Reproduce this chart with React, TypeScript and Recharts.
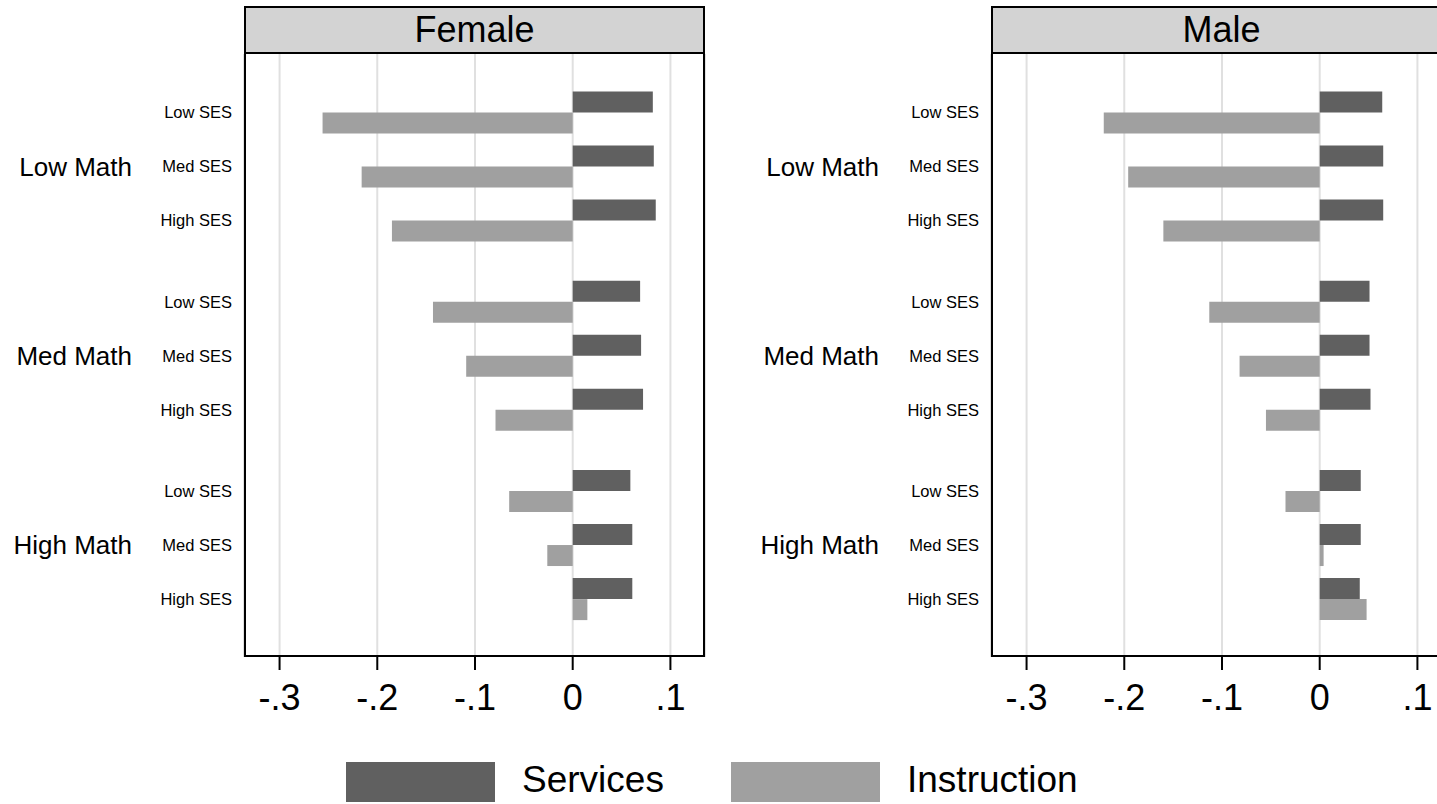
import { BarChart, Bar, XAxis, YAxis, CartesianGrid } from "recharts";

const mathGroups = ["Low Math", "Med Math", "High Math"];
const sesLevels = ["Low SES", "Med SES", "High SES"];
const seriesNames = ["Services", "Instruction"];
const xTicks = [-0.3, -0.2, -0.1, 0, 0.1];

// values in row order: Low Math (Low/Med/High SES), Med Math, High Math
const femaleServices = [0.082, 0.083, 0.085, 0.069, 0.07, 0.072, 0.059, 0.061, 0.061];
const femaleInstruction = [-0.256, -0.216, -0.185, -0.143, -0.109, -0.079, -0.065, -0.026, 0.015];
const maleServices = [0.064, 0.065, 0.065, 0.051, 0.051, 0.052, 0.042, 0.042, 0.041];
const maleInstruction = [-0.221, -0.196, -0.16, -0.113, -0.082, -0.055, -0.035, 0.004, 0.048];

const FONT = "'Liberation Sans', Arial, Helvetica, sans-serif";
const DARK = "#606060";
const LIGHT = "#a0a0a0";
const GROUP_GAP = 0.5;

const rows = mathGroups.flatMap((m, g) =>
  sesLevels.map((s, i) => ({ math: m, ses: s, sesIndex: i, pos: g * (sesLevels.length + GROUP_GAP) + i }))
);
const positions = rows.map((r) => r.pos);

function buildData(services: number[], instruction: number[]) {
  return rows.map((r, i) => ({ ...r, services: services[i], instruction: instruction[i] }));
}

const fmt = (v: number) => (v === 0 ? "0" : (v < 0 ? "-" : "") + Math.abs(v).toFixed(1).replace(/^0/, ""));

function RowTick(props: any) {
  const { x, y, payload } = props;
  const row = rows.find((r) => Math.abs(r.pos - payload.value) < 1e-6);
  if (!row) return null;
  return (
    <g>
      <text x={x} y={y} dy="0.35em" textAnchor="end" fontSize={16.5} fontFamily={FONT} fill="#000">
        {row.ses}
      </text>
      {row.sesIndex === 1 && (
        <text x={x - 100} y={y} dy="0.35em" textAnchor="end" fontSize={26} fontFamily={FONT} fill="#000">
          {row.math}
        </text>
      )}
    </g>
  );
}

const PLOT_TOP = 54;
const PLOT_LEFT = 244;
const PLOT_W = 461;
const PLOT_H = 603;

function Panel({ title, left, services, instruction }: any) {
  const data = buildData(services, instruction);
  return (
    <div style={{ position: "absolute", left, top: 0 }}>
      <BarChart
        width={720}
        height={804}
        data={data}
        layout="vertical"
        barGap={0}
        margin={{ top: PLOT_TOP, right: 720 - PLOT_LEFT - PLOT_W, left: 0, bottom: 804 - PLOT_TOP - PLOT_H - 60 }}
      >
        <CartesianGrid horizontal={false} stroke="#e0e0e0" strokeWidth={2} />
        <XAxis
          type="number"
          domain={[-0.3364, 0.1354]}
          allowDataOverflow
          ticks={xTicks}
          tickFormatter={fmt}
          axisLine={false}
          tickLine={{ stroke: "#000", strokeWidth: 2 }}
          tickSize={13}
          tickMargin={14}
          height={60}
          tick={{ fontSize: 36, fontFamily: FONT, fill: "#000" }}
        />
        <YAxis
          type="number"
          dataKey="pos"
          domain={[-1.082, 10.07]}
          allowDataOverflow
          ticks={positions}
          interval={0}
          width={PLOT_LEFT}
          axisLine={false}
          tickLine={false}
          tickSize={0}
          tickMargin={12}
          tick={<RowTick />}
        />
        <Bar dataKey="services" name={seriesNames[0]} fill={DARK} barSize={21} isAnimationActive={false} />
        <Bar dataKey="instruction" name={seriesNames[1]} fill={LIGHT} barSize={21} isAnimationActive={false} />
      </BarChart>
      <div
        style={{
          position: "absolute",
          left: PLOT_LEFT,
          top: 6,
          width: PLOT_W,
          height: PLOT_TOP - 6,
          boxSizing: "border-box",
          border: "2px solid #000",
          background: "#d3d3d3",
          display: "flex",
          alignItems: "center",
          justifyContent: "center",
          fontFamily: FONT,
          fontSize: 36,
          lineHeight: 1,
        }}
      >
        {title}
      </div>
      <div
        style={{
          position: "absolute",
          left: PLOT_LEFT,
          top: PLOT_TOP,
          width: PLOT_W,
          height: PLOT_H,
          boxSizing: "border-box",
          border: "2px solid #000",
          borderTop: "none",
          pointerEvents: "none",
        }}
      />
    </div>
  );
}

function LegendItem({ left, color, label }: any) {
  return (
    <div style={{ position: "absolute", left, top: 762, display: "flex", alignItems: "center", height: 40 }}>
      <div style={{ width: 149, height: 40, background: color }} />
      <span style={{ marginLeft: 27, fontFamily: FONT, fontSize: 37, lineHeight: 1, marginTop: -6 }}>{label}</span>
    </div>
  );
}

export default function App() {
  return (
    <div
      style={{
        position: "absolute",
        left: 0,
        top: 0,
        width: 1437,
        height: 804,
        overflow: "hidden",
        background: "#fff",
      }}
    >
      <Panel title="Female" left={0} services={femaleServices} instruction={femaleInstruction} />
      <Panel title="Male" left={747} services={maleServices} instruction={maleInstruction} />
      <LegendItem left={346} color={DARK} label={seriesNames[0]} />
      <LegendItem left={731} color={LIGHT} label={seriesNames[1]} />
    </div>
  );
}
